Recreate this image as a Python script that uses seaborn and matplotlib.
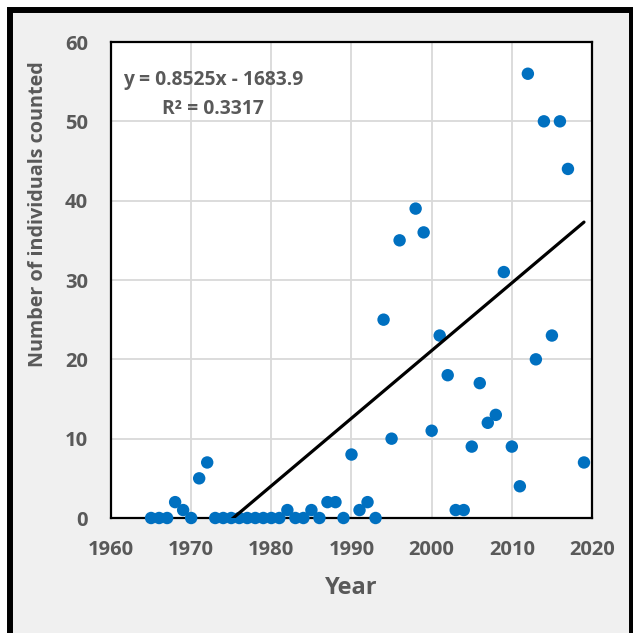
import matplotlib
matplotlib.use("Agg")
import matplotlib.pyplot as plt
import numpy as np
import pandas as pd
import seaborn as sns
from matplotlib.patches import Rectangle

# counts per year
years = [1965, 1966, 1967, 1968, 1969, 1970, 1971, 1972, 1973, 1974,
         1975, 1976, 1977, 1978, 1979, 1980, 1981, 1982, 1983, 1984,
         1985, 1986, 1987, 1988, 1989, 1990, 1991, 1992, 1993, 1994,
         1995, 1996, 1998, 1999, 2000, 2001, 2002, 2003, 2004, 2005,
         2006, 2007, 2008, 2009, 2010, 2011, 2012, 2013, 2014, 2015,
         2016, 2017, 2019]
counts = [0, 0, 0, 2, 1, 0, 5, 7, 0, 0,
          0, 0, 0, 0, 0, 0, 0, 1, 0, 0,
          1, 0, 2, 2, 0, 8, 1, 2, 0, 25,
          10, 35, 39, 36, 11, 23, 18, 1, 1, 9,
          17, 12, 13, 31, 9, 4, 56, 20, 50, 23,
          50, 44, 7]

# linear trendline as printed on the chart
slope = 0.8525
intercept = -1683.9
r_squared = 0.3317

x_ticks = [1960, 1970, 1980, 1990, 2000, 2010, 2020]
y_ticks = [0, 10, 20, 30, 40, 50, 60]

df = pd.DataFrame({"Year": years, "Count": counts})

sns.set_style("white")
plt.rcParams["font.family"] = ["Open Sans", "DejaVu Sans"]
text_color = "#595959"

fig = plt.figure(figsize=(6.33, 6.33), dpi=100, facecolor="white")

# outer chart frame (gray area with thick black border)
frame = Rectangle((10 / 633, -10 / 633), 622 / 633, 633 / 633,
                  transform=fig.transFigure, facecolor="#f0f0f0",
                  edgecolor="black", linewidth=4.3, zorder=0)
fig.patches.append(frame)

ax = fig.add_axes([111 / 633, 1 - 518 / 633, 481 / 633, 476 / 633])
ax.set_zorder(2)
ax.set_facecolor("white")

ax.grid(True, color="#d9d9d9", linewidth=1.3, zorder=0)
ax.set_axisbelow(True)

sns.scatterplot(data=df, x="Year", y="Count", ax=ax, color="#0070c0",
                s=80, edgecolor="none", zorder=3, clip_on=False)

trend_x = np.array([min(years), max(years)])
ax.plot(trend_x, slope * trend_x + intercept, color="black", linewidth=2.3, zorder=4)

ax.set_xlim(1960, 2020)
ax.set_ylim(0, 60)
ax.set_xticks(x_ticks)
ax.set_yticks(y_ticks)
ax.tick_params(length=0, labelsize=14.5, labelcolor=text_color)
ax.tick_params(axis="y", pad=16.5)
ax.tick_params(axis="x", pad=16)
for lab in ax.get_xticklabels() + ax.get_yticklabels():
    lab.set_fontweight("bold")

for side in ["left", "right", "top", "bottom"]:
    ax.spines[side].set_color("black")
    ax.spines[side].set_linewidth(1.6)
    ax.spines[side].set_visible(True)

ax.set_xlabel("Year", fontsize=17, fontweight="bold", color=text_color, va="center")
ax.xaxis.set_label_coords(0.5, (518 - 588) / 476)
ax.set_ylabel("Number of individuals counted", fontsize=14.2, fontweight="bold",
              color=text_color, va="center")
ax.yaxis.set_label_coords((38 - 111) / 481, (518 - 214) / 476)

ax.text(0.024, (518 - 94) / 476, f"y = {slope}x - {abs(intercept)}\nR\u00b2 = {r_squared}",
        transform=ax.transAxes, fontsize=13.9, fontweight="bold", color=text_color,
        ha="left", va="center", multialignment="center", linespacing=1.6)

fig.savefig("out.png", dpi=100, facecolor="white")
